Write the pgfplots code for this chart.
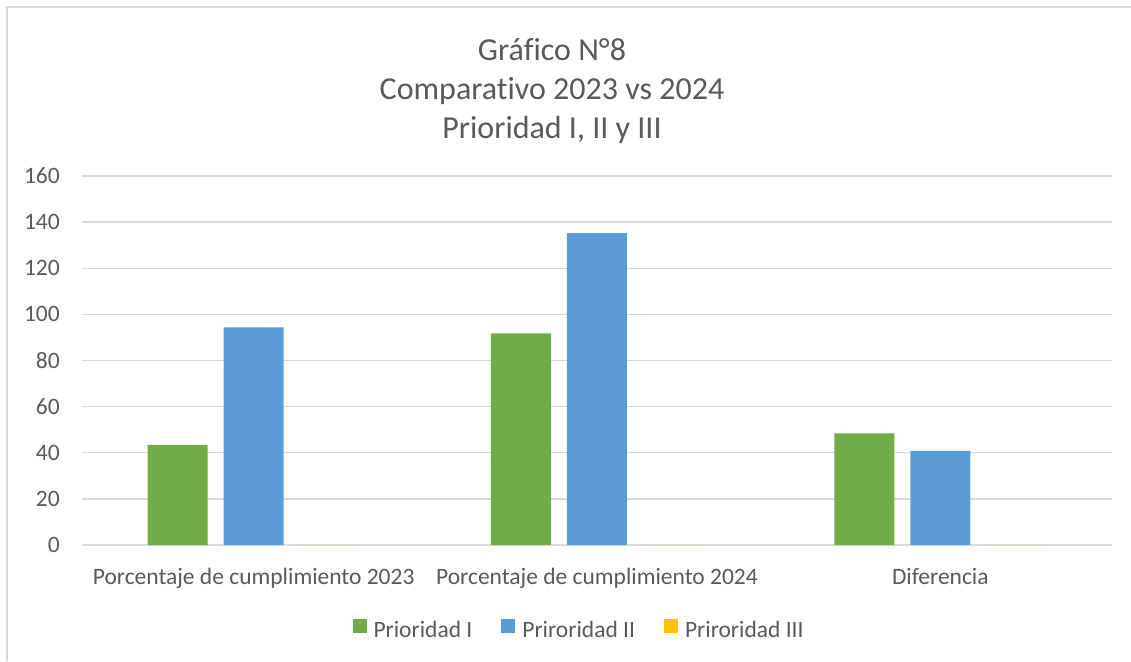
\documentclass[border=0pt]{standalone}
\usepackage{pgfplots}
\pgfplotsset{compat=1.18}
\usepackage{fontspec}
\setmainfont{Carlito}[Ligatures=NoCommon]
\definecolor{verde}{HTML}{70AD47}
\definecolor{azul}{HTML}{5B9BD5}
\definecolor{amarillo}{HTML}{FFC000}
\definecolor{rejilla}{HTML}{D9D9D9}
\definecolor{texto}{HTML}{595959}

\begin{document}
\begin{tikzpicture}
\useasboundingbox (0,0) rectangle (1131pt,661pt);
% marco del grafico (solo borde superior e izquierdo visibles)
\draw[rejilla, line width=2pt] (7pt,0) -- (7pt,654pt) -- (1131pt,654pt);
\node[text=texto, font=\fontsize{32}{39}\selectfont, align=center, anchor=north]
  at (552pt,626pt) {Gráfico N°8\\Comparativo 2023 vs 2024\\Prioridad I, II y III};
\begin{axis}[
    at={(82pt,116pt)}, anchor=south west,
    scale only axis,
    width=1030pt, height=369pt,
    ybar=16pt, bar width=60pt,
    xmin=-0.5, xmax=2.5,
    ymin=0, ymax=160,
    xtick={0,1,2},
    xticklabels={Porcentaje de cumplimiento 2023, Porcentaje de cumplimiento 2024, Diferencia},
    ytick={0,20,...,160},
    major tick length=0pt,
    axis line style={draw=none},
    ymajorgrids,
    grid style={rejilla, line width=1.3pt},
    /pgf/number format/assume math mode=true,
    tick label style={font=\fontsize{23.5}{28}\selectfont, text=texto},
    yticklabel style={inner sep=0pt, xshift=-22pt, anchor=east},
    xticklabel style={inner sep=0pt, anchor=base, yshift=-39pt},
    legend columns=3,
    legend style={at={(0.4816,-0.2276)}, anchor=center, draw=none, fill=none,
        font=\fontsize{23.5}{28}\selectfont, text=texto,
        nodes={inner sep=0pt},
        /tikz/every odd column/.append style={column sep=7pt},
        /tikz/every even column/.append style={column sep=29pt}},
    legend image code/.code={\fill[#1] (0pt,-3pt) rectangle (14pt,11pt);},
]
\addplot[fill=verde, draw=none] coordinates {(0,43.4) (1,91.8) (2,48.4)};
\addplot[fill=azul, draw=none] coordinates {(0,94.4) (1,135.2) (2,40.8)};
\addplot[fill=amarillo, draw=none] coordinates {(0,0) (1,0) (2,0)};
\legend{Prioridad I, Priroridad II, Priroridad III}
\end{axis}
\end{tikzpicture}
\end{document}
